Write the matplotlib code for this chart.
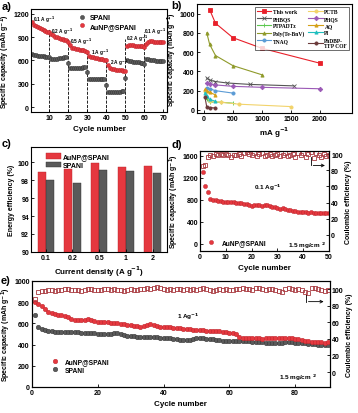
import matplotlib
matplotlib.use("Agg")
import matplotlib.pyplot as plt
import numpy as np

plt.rcParams['font.family'] = ['Liberation Sans', 'DejaVu Sans']
plt.rcParams['font.weight'] = 'bold'
plt.rcParams['axes.labelweight'] = 'bold'
plt.rcParams['axes.linewidth'] = 0.8
plt.rcParams['mathtext.default'] = 'bf'

RED = '#e5383f'
RED_EDGE = '#b8242b'
GRAY = '#5a5a5a'
GRAY_EDGE = '#2e2e2e'
CE_COL = '#a8383e'

# ---- a) rate performance
rate_cycles = np.arange(1, 71)
rate_aunp = [1090, 1060, 1040, 1025, 1010, 1000, 990, 980, 970, 960,
             940, 920, 905, 895, 885, 875, 870, 865, 860, 840,
             800, 760, 755, 750, 745, 740, 735, 730, 725, 710,
             660, 650, 640, 635, 630, 625, 620, 615, 610, 600,
             545, 500, 490, 485, 480, 478, 475, 472, 470, 470,
             790, 800, 800, 795, 790, 790, 785, 785, 780, 770,
             810, 840, 845, 845, 840, 840, 838, 835, 835, 832]
rate_spani = [680, 670, 665, 660, 658, 655, 652, 650, 648, 645,
              620, 615, 620, 625, 630, 632, 635, 640, 645, 570,
              505, 500, 500, 505, 505, 510, 510, 515, 520, 450,
              365, 360, 360, 360, 360, 360, 360, 362, 362, 280,
              195, 190, 190, 192, 195, 198, 200, 205, 210, 370,
              600, 595, 590, 585, 580, 578, 575, 570, 565, 560,
              625, 615, 610, 605, 600, 598, 595, 592, 590, 588]
rate_steps = [10, 20, 30, 40, 50, 60]
rate_step_tops = [1000, 880, 740, 630, 880, 960]
rate_labels = ['0.1 A g$^{-1}$', '0.2 A g$^{-1}$', '0.5 A g$^{-1}$', '1 A g$^{-1}$',
               '2 A g$^{-1}$', '0.2 A g$^{-1}$', '0.1 A g$^{-1}$']
rate_label_xy = [(1.5, 1110), (11, 960), (21, 820), (32, 690), (42, 560), (50.5, 860), (60, 955)]

# ---- b) comparison
comp = [
    ('This work', [100, 200, 500, 1000, 2000], [1040, 900, 750, 640, 485], '#e8202a', 's'),
    ('PHBQS', [50, 100, 200, 400, 800, 1550], [330, 310, 295, 280, 265, 250], '#555555', 'x'),
    ('PTPADTz', [50, 100, 300, 500], [110, 85, 80, 70], '#5cc84f', '+'),
    ('Poly(Te-BnV)', [50, 100, 200, 500, 1000], [800, 680, 565, 460, 365], '#8f9a2a', '^'),
    ('TNAQ', [50, 100, 200, 500], [230, 220, 200, 175], '#5b9bd5', 'o'),
    ('PCTB', [20, 100, 300, 600, 1500], [200, 90, 80, 60, 35], '#f2d36b', 'o'),
    ('PHQS', [50, 100, 200, 500, 1000, 2000], [275, 270, 260, 245, 235, 220], '#9b59b6', 'D'),
    ('AQ', [25, 50, 100, 200], [215, 200, 185, 155], '#d4a017', '^'),
    ('PI', [20, 50, 100, 200], [180, 140, 110, 90], '#1fbfbf', '^'),
    ('PhDBP-\nTFP COF', [20, 50, 100, 200], [130, 30, 25, 20], '#6b3a3a', 'o'),
]

# ---- c) energy efficiency
densities = ['0.1', '0.2', '0.5', '1', '2']
ee_aunp = [98.95, 99.25, 99.85, 99.5, 99.6]
ee_spani = [98.0, 97.7, 99.15, 99.05, 98.8]

# ---- d) cycling at 0.1 A/g
d_cycles = np.arange(1, 51)
d_cap = [1300, 1050, 950, 820, 800, 790, 780, 775, 770, 770,
         765, 770, 760, 750, 745, 740, 730, 720, 700, 690,
         710, 700, 700, 695, 710, 705, 690, 680, 665, 650,
         640, 650, 630, 620, 610, 600, 590, 580, 585, 575,
         580, 570, 575, 565, 570, 560, 570, 560, 565, 555]
d_ce = [85, 87, 96, 99, 98, 100, 99, 100, 99, 100,
        99, 97, 99, 99, 100, 98, 101, 103, 100, 99,
        101, 98, 100, 102, 98, 99, 100, 98, 99, 100,
        98, 99, 101, 98, 99, 100, 97, 101, 99, 102,
        96, 100, 103, 95, 101, 99, 97, 100, 98, 99]

# ---- e) cycling at 1 A/g
e_cycles = np.arange(1, 91)
e_aunp = [800, 780, 760, 735, 705, 695, 690, 680, 680, 670,
          655, 640, 630, 630, 635, 635, 640, 630, 625, 615,
          610, 610, 610, 605, 600, 600, 595, 590, 585, 580,
          575, 575, 570, 575, 580, 590, 585, 575, 570, 570,
          565, 565, 560, 560, 555, 550, 548, 545, 540, 540,
          535, 535, 530, 528, 525, 525, 525, 520, 515, 510,
          505, 500, 470, 465, 462, 460, 460, 458, 458, 455,
          458, 462, 465, 465, 462, 460, 462, 460, 458, 455,
          450, 440, 435, 430, 425, 422, 420, 420, 418, 420]
e_spani = [680, 565, 550, 540, 530, 525, 520, 518, 515, 520,
           520, 518, 518, 515, 512, 510, 510, 508, 505, 500,
           498, 497, 498, 500, 505, 505, 498, 490, 485, 480,
           478, 475, 472, 470, 470, 470, 470, 468, 465, 462,
           460, 458, 455, 450, 440, 438, 440, 445, 455, 465,
           462, 458, 455, 450, 448, 445, 440, 437, 435, 432,
           430, 430, 432, 435, 432, 430, 428, 425, 422, 420,
           418, 415, 412, 410, 410, 415, 420, 425, 422, 418,
           415, 412, 410, 408, 405, 402, 400, 398, 395, 395]
e_ce = [88, 97, 98, 98, 99, 99, 98, 99, 99, 100,
        100, 99, 99, 99, 98, 99, 100, 100, 99, 99,
        99, 100, 100, 99, 100, 99, 99, 98, 99, 100,
        99, 99, 100, 100, 101, 100, 102, 103, 101, 100,
        99, 100, 99, 100, 100, 99, 100, 99, 100, 99,
        100, 101, 100, 99, 98, 99, 100, 99, 100, 99,
        99, 100, 100, 101, 100, 100, 99, 101, 102, 100,
        99, 100, 100, 99, 98, 97, 100, 101, 100, 99,
        100, 99, 97, 95, 101, 102, 100, 99, 98, 99]

TICK = 5
LAB = 5.0
XLAB = 5.8

fig = plt.figure(figsize=(3.58, 4.14), dpi=100)


def style(ax):
    ax.tick_params(direction='in', length=2, width=0.6, labelsize=TICK, pad=1.5)


cap_label = 'Specific capacity (mAh g$^{-1}$)'

# a)
ax = fig.add_axes([0.087, 0.727, 0.380, 0.249])
for s, top in zip(rate_steps, rate_step_tops):
    ax.vlines(s, -60, top, colors='k', linestyles='--', linewidth=0.6)
ax.plot(rate_cycles, rate_spani, 'o', ms=3, color=GRAY, mec=GRAY_EDGE, mew=0.3, label='SPANI')
ax.plot(rate_cycles, rate_aunp, 'o', ms=3, color=RED, mec=RED_EDGE, mew=0.3, label='AuNP@SPANI')
for t, (x, y) in zip(rate_labels, rate_label_xy):
    ax.text(x, y, t, fontsize=3.4)
ax.set_xlim(0.5, 72)
ax.set_ylim(-60, 1260)
ax.set_xticks([10, 20, 30, 40, 50, 60, 70])
ax.set_yticks([0, 300, 600, 900, 1200])
ax.set_xlabel('Cycle number', fontsize=XLAB, labelpad=3)
ax.set_ylabel(cap_label, fontsize=LAB, labelpad=1)
ax.legend(loc='upper center', bbox_to_anchor=(0.55, 1.0), fontsize=5, frameon=False,
          handletextpad=0.2, labelspacing=0.2, borderpad=0.3)
style(ax)

# b)
ax = fig.add_axes([0.550, 0.725, 0.433, 0.263])
for name, xs, ys, col, mk in comp:
    ax.plot(xs, ys, '-', marker=mk, color=col, lw=0.8, ms=2.3, mew=0.6, label=name)
ax.set_xlim(-120, 2550)
ax.set_ylim(-30, 1100)
ax.set_xticks([0, 500, 1000, 1500, 2000])
ax.set_yticks([0, 200, 400, 600, 800, 1000])
ax.set_xlabel('mA g$^{-1}$', fontsize=XLAB, labelpad=2)
ax.set_ylabel(cap_label, fontsize=LAB, labelpad=0.5)
leg = ax.legend(loc='upper right', ncol=2, frameon=True, fancybox=False,
                edgecolor='k', borderpad=0.35, labelspacing=0.4, handlelength=2.6,
                handletextpad=0.3, columnspacing=0.6,
                prop={'family': 'Liberation Serif', 'size': 4.0, 'weight': 'bold'})
leg.get_frame().set_linewidth(0.5)
style(ax)

# c)
ax = fig.add_axes([0.087, 0.389, 0.380, 0.254])
xc = np.arange(len(densities))
ax.bar(xc - 0.16, ee_aunp, 0.3, color=RED, edgecolor=RED_EDGE, lw=0.3, label='AuNP@SPANI')
ax.bar(xc + 0.16, ee_spani, 0.3, color=GRAY, edgecolor=GRAY_EDGE, lw=0.3, label='SPANI')
ax.set_ylim(90, 101.7)
ax.set_xlim(-0.55, 4.55)
ax.set_yticks([90, 92, 94, 96, 98, 100])
ax.set_xticks(xc)
ax.set_xticklabels(densities)
ax.set_xlabel('Current density (A g$^{-1}$)', fontsize=XLAB, labelpad=2)
ax.set_ylabel('Energy efficiency (%)', fontsize=LAB, labelpad=2)
ax.legend(loc='upper left', bbox_to_anchor=(0.06, 1.0), fontsize=5, frameon=False,
          handlelength=2.2, handleheight=0.9, labelspacing=0.2, handletextpad=0.3)
style(ax)

# d)
ax = fig.add_axes([0.559, 0.391, 0.360, 0.242])
ax.plot(d_cycles, d_cap, 'o', ms=3, color=RED, mec=RED_EDGE, mew=0.3, label='AuNP@SPANI')
ax.set_xlim(0, 50)
ax.set_ylim(-130, 1690)
ax.set_yticks([0, 400, 800, 1200, 1600])
ax.set_xticks([0, 10, 20, 30, 40, 50])
ax.set_xlabel('Cycle number', fontsize=XLAB, labelpad=3)
ax.set_ylabel(cap_label, fontsize=LAB, labelpad=1)
ax.text(21, 1000, '0.1 Ag$^{-1}$', fontsize=4.6)
ax.text(34, -60, '1.5 mg/cm $^{2}$', fontsize=4.6)
ax.legend(loc='lower left', fontsize=4.8, frameon=False, handletextpad=0.5, borderpad=0.2)
style(ax)
ax2 = ax.twinx()
ax2.plot(d_cycles, d_ce, 's', ms=2.8, mfc='none', mec=CE_COL, mew=0.6)
ax2.set_ylim(-20, 104)
ax2.set_yticks([0, 20, 40, 60, 80, 100])
ax2.set_ylabel('Coulombic efficiency (%)', fontsize=LAB, labelpad=2)
ax2.plot([43, 43], [96, 86], color='k', lw=0.6)
ax2.annotate('', xy=(49.5, 86), xytext=(42.8, 86),
             arrowprops=dict(arrowstyle='->', lw=0.6, color='k', mutation_scale=5))
style(ax2)

# e)
ax = fig.add_axes([0.089, 0.063, 0.832, 0.256])
ax.plot(e_cycles, e_spani, 'o', ms=3.3, color=GRAY, mec=GRAY_EDGE, mew=0.3, label='SPANI', zorder=3)
ax.plot(e_cycles, e_aunp, 'o', ms=3.3, color=RED, mec=RED_EDGE, mew=0.3, label='AuNP@SPANI', zorder=3)
ax.set_xlim(0, 90.5)
ax.set_ylim(0, 1000)
ax.set_yticks([0, 200, 400, 600, 800, 1000])
ax.set_xticks([0, 20, 40, 60, 80])
ax.set_xlabel('Cycle number', fontsize=XLAB, labelpad=3)
ax.set_ylabel(cap_label, fontsize=LAB, labelpad=1)
ax.text(44, 650, '1 Ag$^{-1}$', fontsize=4.6)
ax.text(75, 75, '1.5 mg/cm $^{2}$', fontsize=4.6)
hs, ls = ax.get_legend_handles_labels()
ax.legend(hs[::-1], ls[::-1], loc='lower left', bbox_to_anchor=(0.04, 0.08), fontsize=4.8,
          frameon=False, handletextpad=0.5, labelspacing=0.2, borderpad=0.2)
style(ax)
ax2 = ax.twinx()
ax2.plot(e_cycles, e_ce, 's', ms=3.2, mfc='none', mec=CE_COL, mew=0.6)
ax2.set_ylim(-18, 110)
ax2.set_yticks([0, 20, 40, 60, 80, 100])
ax2.set_ylabel('Coulombic efficiency (%)', fontsize=LAB, labelpad=2)
ax2.plot([83.4, 83.4], [93, 85], color='k', lw=0.6)
ax2.annotate('', xy=(89.5, 85), xytext=(83.2, 85),
             arrowprops=dict(arrowstyle='->', lw=0.6, color='k', mutation_scale=5))
style(ax2)

# panel letters
for t, x, y in [('a)', 0.005, 0.984), ('b)', 0.478, 0.986), ('c)', 0.005, 0.652),
                ('d)', 0.478, 0.650), ('e)', 0.003, 0.322)]:
    fig.text(x, y, t, fontsize=8, fontweight='bold', va='center')

fig.savefig('out.png', dpi=100)
